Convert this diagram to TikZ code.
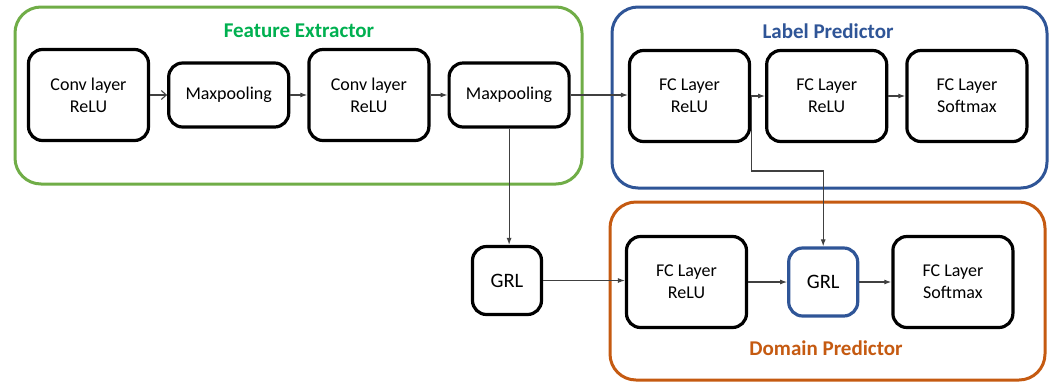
\documentclass[tikz,border=0pt]{standalone}
\usepackage{fontspec}
\setmainfont{Carlito}
\usetikzlibrary{arrows.meta}
\usetikzlibrary{positioning}
\definecolor{fegreen}{HTML}{70AD47}
\definecolor{fetext}{HTML}{00B050}
\definecolor{lpblue}{HTML}{2F5597}
\definecolor{dporange}{HTML}{C55A11}

\begin{document}
\begin{tikzpicture}[x=1pt,y=-1pt,node distance=17pt,
          box/.style={draw,line width=3.2pt,rounded corners=14pt,align=center,minimum width=120pt,minimum height=91pt,inner sep=2pt,font=\fontsize{18}{22}\selectfont},
          pool/.style={box,minimum height=64pt},
          grl/.style={box,minimum width=69pt,minimum height=68pt,font=\fontsize{20.5}{24}\selectfont},
          frame/.style={line width=3pt,rounded corners=26pt},
          title/.style={font=\fontsize{21}{25}\selectfont\bfseries},
          arr/.style={-{Latex[length=7pt,width=5pt]},draw=black!75,line width=1.1pt}]
          \useasboundingbox (0,0) rectangle (1054,381);
          % the three groups
          \draw[frame,fegreen] (15,7) rectangle (582,184);
          \draw[frame,lpblue] (612,7) rectangle (1047,188);
          \draw[frame,dporange] (610,202) rectangle (1045,380);
          \node[title,text=fetext](fetitle) at (299,31){Feature Extractor};
          \node[title,text=lpblue](lptitle) at (828,31){Label Predictor};
          \node[title,text=dporange](dptitle) at (826,348){Domain Predictor};
          % feature extractor
          \node[box](conv1) at (88.5,95){Conv layer\\ReLU};
          \node[pool,right=of conv1](pool1){Maxpooling};
          \node[box,right=of pool1](conv2){Conv layer\\ReLU};
          \node[pool,right=of conv2](pool2){Maxpooling};
          % label predictor
          \node[box](fc1) at (689.5,96){FC Layer\\ReLU};
          \node[box,right=14pt of fc1](fc2){FC Layer\\ReLU};
          \node[box,right=of fc2](fc3){FC Layer\\Softmax};
          % domain predictor
          \node[grl](grl1) at (507,280.5){GRL};
          \node[box](dfc1) at (686.5,282){FC Layer\\ReLU};
          \node[grl,draw=lpblue,right=39pt of dfc1](grl2){GRL};
          \node[box,right=32pt of grl2](dfc2){FC Layer\\Softmax};
          % connectors
          \draw[arr,-{Straight Barb[length=5pt,width=9pt]}](conv1.east)--(pool1.west);
          \draw[arr](pool1.east)--(conv2.west);
          \draw[arr](conv2.east)--(pool2.west);
          \draw[arr](pool2.east)--(pool2.east-|fc1.west);
          \draw[arr](pool2.south)--(pool2.south|-grl1.north);
          \draw[arr](fc1.east)--(fc2.west);
          \draw[arr](fc2.east)--(fc3.west);
          \draw[arr](fc1.east)--++(0,75)-|(grl2.north);
          \draw[arr](grl1.east)--(grl1.east-|dfc1.west);
          \draw[arr](dfc1.east)--(grl2.west);
          \draw[arr](grl2.east)--(dfc2.west);
        \end{tikzpicture}
\end{document}
